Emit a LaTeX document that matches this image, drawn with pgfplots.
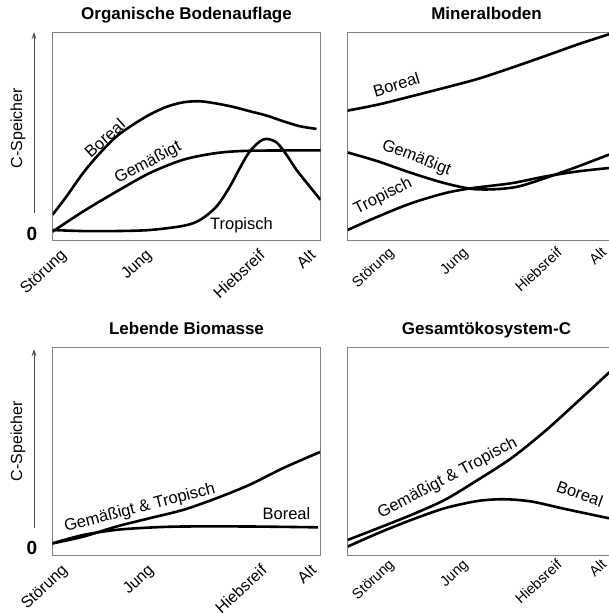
\documentclass[border=0pt]{standalone}
\usepackage{fontspec}
\setmainfont{Liberation Sans}
\usepackage{pgfplots}
\pgfplotsset{compat=1.18}
\usetikzlibrary{arrows.meta}

\pgfplotsset{
  panel/.style={scale only axis, height=208pt, anchor=south west,
    xmin=0, xmax=10, ymin=0, ymax=10, ytick=\empty,
    axis line style={black!50, line width=0.9pt},
    major tick length=0pt,
    xticklabels={Störung,Jung,Hiebsreif,Alt},
    title style={font=\bfseries\fontsize{17}{19}\selectfont, at={(0.5,1)}, anchor=base, yshift=6pt},
    clip=true},
  tl/.style n args={3}{xticklabel style={xshift=#1, yshift=#2, rotate=43, anchor=north east, inner sep=0pt,
      font=\fontsize{#3}{17}\selectfont}},
  curve/.style={black, line width=2.6pt, smooth, tension=0.5, mark=none},
}
\tikzset{lbl/.style={font=\fontsize{16.5}{18}\selectfont, inner sep=0pt}}

\begin{document}
\begin{tikzpicture}[x=1pt,y=1pt]

% ---------- Organische Bodenauflage ----------
\begin{axis}[panel, at={(52.5pt,373pt)}, width=268pt,
  title={Organische Bodenauflage},
  xtick={0.37,3.56,7.78,9.67},
  tl={-3pt}{-8pt}{16}]
\addplot[curve] coordinates {(0,1.21) (0.52,2.09) (1.14,3.22) (1.77,4.18) (2.39,4.98) (3.01,5.55) (3.63,6.03) (4.25,6.40) (4.88,6.62) (5.50,6.67) (6.12,6.56) (6.74,6.40) (7.36,6.19) (7.99,5.98) (8.61,5.71) (9.23,5.47) (9.85,5.34)};
\addplot[curve] coordinates {(0,0.40) (1.14,1.37) (2.39,2.33) (3.63,3.22) (4.88,3.86) (6.12,4.18) (7.36,4.29) (10,4.31)};
\addplot[curve] coordinates {(0,0.48) (1.14,0.43) (2.39,0.43) (3.63,0.48) (4.88,0.68) (5.50,0.96) (6.12,1.61) (6.62,2.57) (6.99,3.46) (7.36,4.26) (7.74,4.74) (7.99,4.86) (8.36,4.69) (8.73,4.10) (9.10,3.38) (9.60,2.57) (10,1.93)};
\node[lbl, rotate=42] at (axis cs:1.95,4.9) {Boreal};
\node[lbl, rotate=28] at (axis cs:3.57,3.70) {Gemäßigt};
\node[lbl] at (axis cs:7.05,0.72) {Tropisch};
\end{axis}

% ---------- Mineralboden ----------
\begin{axis}[panel, at={(347.5pt,373pt)}, width=278pt,
  title={Mineralboden},
  xtick={1.49,4.15,7.52,9.12},
  tl={-1pt}{-6pt}{14.5}]
\addplot[curve] coordinates {(0,6.22) (1.10,6.51) (2.30,6.91) (3.50,7.32) (4.70,7.75) (5.90,8.28) (7.10,8.84) (8.30,9.41) (9.40,9.89) (10,10.15)};
\addplot[curve] coordinates {(0,4.21) (1.10,3.78) (2.30,3.22) (3.50,2.73) (4.46,2.46) (5.30,2.44) (6.14,2.57) (7.10,2.97) (8.30,3.54) (9.40,4.10) (10,4.4)};
\addplot[curve] coordinates {(0,0.48) (1.10,1.13) (2.30,1.77) (3.50,2.25) (4.46,2.49) (5.90,2.73) (7.10,3.05) (8.30,3.30) (9.40,3.46) (10,3.55)};
\node[lbl, rotate=17] at (axis cs:1.76,7.48) {Boreal};
\node[lbl, rotate=-21] at (axis cs:2.48,3.94) {Gemäßigt};
\node[lbl, rotate=27] at (axis cs:1.28,2.09) {Tropisch};
\end{axis}

% ---------- Lebende Biomasse ----------
\begin{axis}[panel, at={(52.5pt,58pt)}, width=268pt,
  title={Lebende Biomasse},
  xtick={0.41,3.63,7.85,9.7},
  tl={-3pt}{-8pt}{16}]
\addplot[curve] coordinates {(0,0.56) (1.14,0.88) (2.39,1.37) (3.63,1.77) (4.88,2.17) (6.12,2.73) (7.36,3.38) (8.61,4.18) (9.98,4.95)};
\addplot[curve] coordinates {(0,0.56) (1.14,0.96) (2.39,1.21) (3.63,1.32) (4.88,1.37) (7.36,1.37) (9.91,1.33)};
\node[lbl, rotate=14.5] at (axis cs:3.26,2.25) {Gemäßigt \& Tropisch};
\node[lbl] at (axis cs:8.73,2.0) {Boreal};
\end{axis}

% ---------- Gesamtoekosystem-C ----------
\begin{axis}[panel, at={(347.5pt,58pt)}, width=278pt,
  title={Gesamtökosystem-C},
  xtick={1.49,4.15,7.52,9.12},
  tl={-1pt}{-3pt}{14.5}]
\addplot[curve] coordinates {(0,0.72) (1.10,1.29) (2.30,1.93) (3.50,2.65) (4.70,3.62) (5.90,4.66) (7.10,5.95) (8.30,7.40) (9.40,8.76) (10,9.5)};
\addplot[curve] coordinates {(0,0.40) (1.10,1.05) (2.30,1.69) (3.50,2.25) (4.70,2.60) (5.66,2.68) (6.62,2.57) (7.70,2.25) (8.54,2.01) (9.40,1.77) (10,1.65)};
\node[lbl, rotate=28] at (axis cs:3.6,3.68) {Gemäßigt \& Tropisch};
\node[lbl, rotate=-20] at (axis cs:8.36,2.95) {Boreal};
\end{axis}

% ---------- y-axis annotations ----------
\draw[black!70, line width=0.8pt, -{Stealth[length=7pt,width=4.5pt]}] (34,400) -- (34,581);
\draw[black!70, line width=0.8pt, -{Stealth[length=7pt,width=4.5pt]}] (34,85) -- (34,264);
\node[rotate=90, font=\fontsize{16}{18}\selectfont] at (18,485) {C-Speicher};
\node[rotate=90, font=\fontsize{16}{18}\selectfont] at (18,172) {C-Speicher};
\node[font=\bfseries\fontsize{19}{21}\selectfont] at (32,379) {0};
\node[font=\bfseries\fontsize{19}{21}\selectfont] at (32,65) {0};

\pgfresetboundingbox
\useasboundingbox (0,0) rectangle (609,613);
\end{tikzpicture}
\end{document}
